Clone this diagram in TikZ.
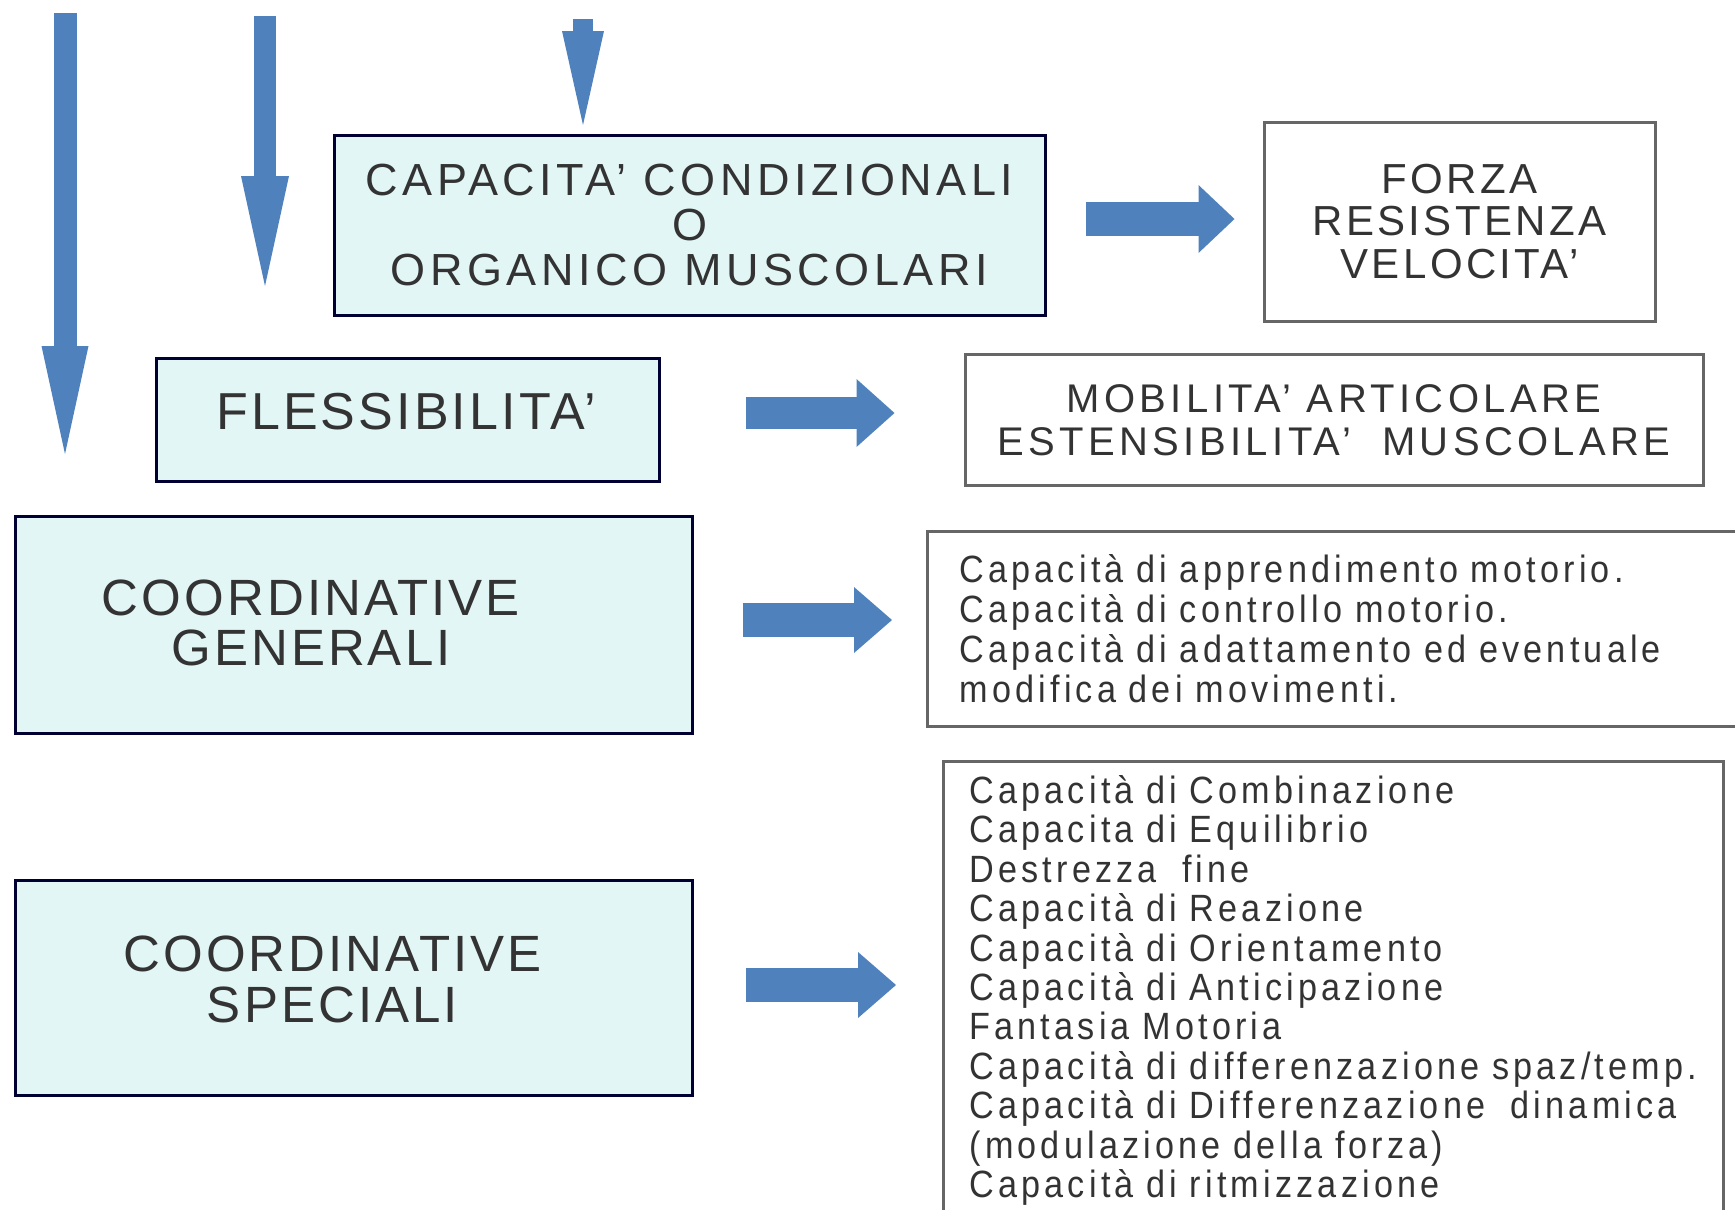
\documentclass[tikz,border=0pt]{standalone}
\usepackage{fontspec}
\setmainfont{Liberation Sans}
\usetikzlibrary{arrows.meta,positioning}
\definecolor{ArrowBlue}{HTML}{4F81BD}
\definecolor{BoxFill}{HTML}{E3F6F6}
\definecolor{BoxLine}{HTML}{000033}
\definecolor{ListLine}{HTML}{666666}
\definecolor{TextGray}{HTML}{333333}

\tikzset{
  capbox/.style={draw=BoxLine,fill=BoxFill,line width=1.5pt,inner sep=0pt,text=TextGray,align=center},
  listbox/.style={draw=ListLine,line width=1.5pt,fill=white,text=TextGray,align=left,anchor=north west},
  captext/.style={text=TextGray,align=center,inner sep=0pt},
  blockarrow/.style n args={3}{draw=ArrowBlue,line width=#1,-{Triangle[length=#2,width=#3,line width=0pt]}},
  capfont/.style n args={3}{font={\fontsize{#1}{#2}\selectfont\addfontfeature{LetterSpace=#3}}},
  listfont/.style={font={\fontsize{19}{#1}\selectfont\addfontfeatures{LetterSpace=11,FakeStretch=0.9}}}
}

\begin{document}
\begin{tikzpicture}[x=0.5pt,y=-0.5pt]
  \useasboundingbox (0,0) rectangle (1735,1210);

  % free arrows at the top
  \coordinate (vtopa) at (65,13);   \coordinate (vtipa) at (65,454);
  \coordinate (vtopb) at (265,16);  \coordinate (vtipb) at (265,286);
  \coordinate (vtopc) at (583,19);  \coordinate (vtipc) at (583,125);
  \draw[blockarrow={11.5pt}{54pt}{23.5pt}] (vtopa) -- (vtipa);
  \draw[blockarrow={11pt}{55pt}{24pt}] (vtopb) -- (vtipb);
  \draw[blockarrow={10pt}{47pt}{21pt}] (vtopc) -- (vtipc);

  % left column
  \node[capbox,minimum width=355.5pt,minimum height=90pt,capfont={22.5}{22.5}{10}] (cond) at (689.5,225)
    {CAPACITA' CONDIZIONALI\\O\\ORGANICO MUSCOLARI};
  \node[capbox,minimum width=251.5pt,minimum height=61.5pt] (fless) at (407.5,419.5) {};
  \node[captext,capfont={26}{26}{6}] (flesstext) at (406,412) {FLESSIBILITA'};
  \node[capbox,minimum width=338.5pt,minimum height=108.5pt] (cgen) at (353.5,624.5) {};
  \node[captext,capfont={25.5}{25}{6}] (cgentext) at (311,623) {COORDINATIVE\\GENERALI};
  \node[capbox,minimum width=338.5pt,minimum height=107.5pt] (cspec) at (353.5,987.5) {};
  \node[captext,capfont={25.5}{25.5}{6}] (cspectext) at (332.5,979) {COORDINATIVE\\SPECIALI};

  % right column
  \node[draw=ListLine,line width=1.5pt,text=TextGray,align=center,minimum width=195.5pt,minimum height=99.5pt,
        capfont={21}{21.25}{8}] (forza) at (1459.5,221.5) {FORZA\\RESISTENZA\\VELOCITA'};
  \node[draw=ListLine,line width=1.5pt,text=TextGray,align=center,minimum width=369pt,minimum height=65.5pt,
        capfont={20}{21.5}{11}] (mobil) at (1334,420) {MOBILITA' ARTICOLARE\\ESTENSIBILITA'\ \ MUSCOLARE};
  \node[listbox,minimum height=97.5pt,text width=377.5pt,inner xsep=16pt,listfont=20] (genlist) at (926,530)
    {Capacità di apprendimento motorio.\\
     Capacità di controllo motorio.\\
     Capacità di adattamento ed eventuale\\
     modifica dei movimenti.};
  \node[listbox,minimum height=229pt,text width=364pt,inner xsep=13pt,listfont=19.7] (speclist) at (942,760)
    {Capacità di Combinazione\\
     Capacita di Equilibrio\\
     Destrezza\ \ fine\\
     Capacità di Reazione\\
     Capacità di Orientamento\\
     Capacità di Anticipazione\\
     Fantasia Motoria\\
     Capacità di differenzazione spaz/temp.\\
     Capacità di Differenzazione\ \ dinamica\\
     (modulazione della forza)\\
     Capacità di ritmizzazione};

  % block arrows between the columns
  \draw[blockarrow={17pt}{18pt}{34pt},shorten <=19.5pt,shorten >=14pt]
    ([yshift=3pt]cond.east) -- ([yshift=3pt]cond.east -| forza.west);
  \draw[blockarrow={16pt}{19pt}{34pt},shorten <=42.5pt,shorten >=34.5pt]
    ([yshift=3.25pt]fless.east) -- ([yshift=3.25pt]fless.east -| mobil.west);
  \draw[blockarrow={17pt}{19pt}{33pt},shorten <=24.5pt,shorten >=17pt]
    ([yshift=2.25pt]cgen.east) -- ([yshift=2.25pt]cgen.east -| genlist.west);
  \draw[blockarrow={17pt}{19pt}{33pt},shorten <=26pt,shorten >=23pt]
    ([yshift=1.25pt]cspec.east) -- ([yshift=1.25pt]cspec.east -| speclist.west);
\end{tikzpicture}
\end{document}
